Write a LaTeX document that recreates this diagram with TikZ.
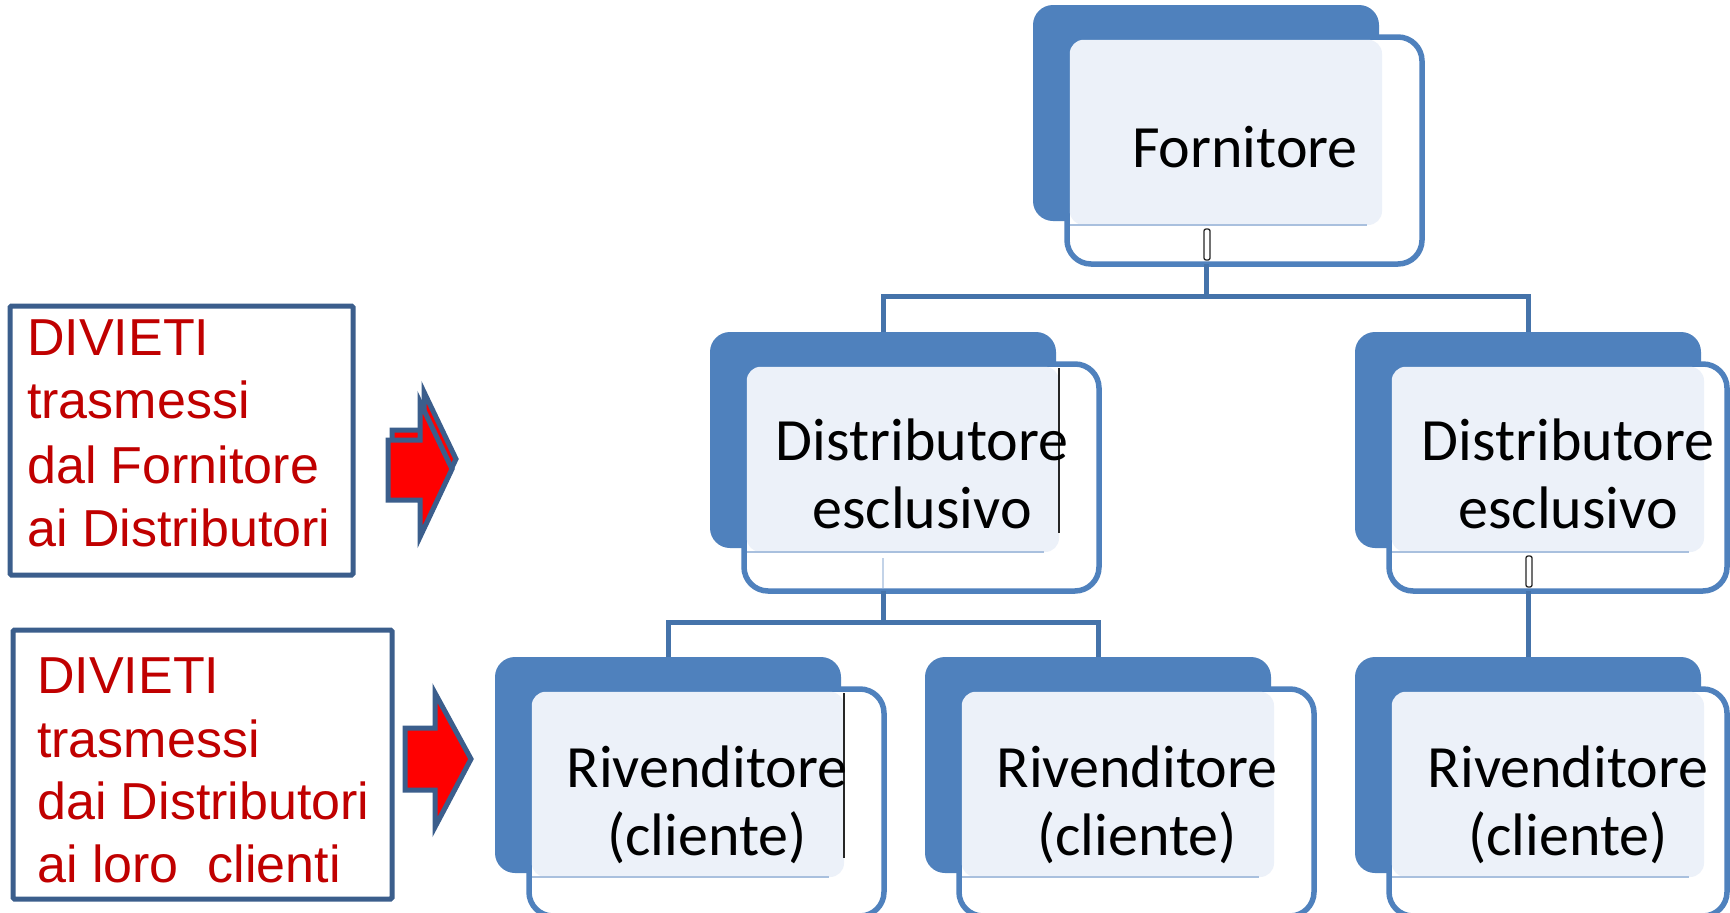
\documentclass[tikz,border=0pt]{standalone}
\usepackage{fontspec}
\setmainfont{Carlito}
\newfontfamily\arialf{Liberation Sans}
\definecolor{darkbox}{HTML}{4F81BD}
\definecolor{lightbox}{HTML}{ECF1F9}
\definecolor{lightedge}{HTML}{A9C0DE}
\definecolor{linec}{HTML}{4573AA}
\definecolor{framec}{HTML}{3B5E8C}
\definecolor{redtxt}{HTML}{C00000}
\definecolor{arrowred}{HTML}{FF0000}
\tikzset{
  darkrect/.style={fill=darkbox, rounded corners=20pt, inner sep=0pt, outer sep=0pt,
    minimum width=346pt, minimum height=216pt, anchor=north west},
  outrect/.style={draw=darkbox, fill=white, line width=5.5pt, rounded corners=24pt,
    inner sep=0pt, outer sep=0pt, minimum height=227pt, anchor=north west},
  boxtext/.style={font=\fontsize{60}{68}\selectfont, text=black, anchor=base, inner sep=0pt},
  sidetext/.style={font=\arialf\fontsize{52}{64}\selectfont, text=redtxt, anchor=base west, inner sep=0pt},
  framebox/.style={draw=framec, line width=5pt, inner sep=0pt, outer sep=0pt,
    anchor=north west, rounded corners=1.5pt},
  conn/.style={draw=linec, line width=5pt},
  redarrow/.style={fill=arrowred, draw=framec, line width=5pt, line join=miter, miter limit=10},
  blackmark/.style={draw=black!85, line width=1.5pt},
  capsule/.style={draw=black!85, fill=white, line width=1.3pt, rounded corners=2pt},
}
% #1 name, #2 x, #3 y (top left of dark shape), #4 outline width
\newcommand\OrgShape[4]{%
  \node[darkrect] (#1d) at (#2,#3) {};
  \node[outrect, minimum width=#4pt] (#1) at ({#2+34},{#3+32}) {};
  \fill[lightbox, rounded corners=14pt] ({#2+36.75},{#3+34.75}) rectangle ({#2+349},{#3+220});
  \draw[lightedge, line width=1.8pt] ({#2+37},{#3+220}) -- ({#2+334},{#3+220});
}
\begin{document}
\begin{tikzpicture}[x=1pt,y=-1pt]
\useasboundingbox (0,0) rectangle (1730,913);
\fill[white] (0,0) rectangle (1730,913);

% ---- boxes ----
\OrgShape{forn}{1033}{5}{355}
\OrgShape{dista}{710}{332}{355}
\OrgShape{distb}{1355}{332}{338}
\OrgShape{riva}{495}{657}{355}
\OrgShape{rivb}{925}{657}{355}
\OrgShape{rivc}{1355}{657}{338}

% ---- small artefacts ----
\draw[blackmark] (1059,368) -- (1059,533);
\draw[blackmark] (844,693) -- (844,858);
\draw[capsule] (1204,229) rectangle (1210,260);
\draw[capsule] (1526,556) rectangle (1532,587);
\draw[draw=lightedge!70, line width=2pt] (883,558) -- (883,588);

% ---- texts ----
\node[boxtext] (fornt) at (1245,167) {Fornitore};
\node[boxtext] (distat1) at (922,460) {Distributore};
\node[boxtext] (distat2) at (922,528) {esclusivo};
\node[boxtext] (distbt1) at (1568,460) {Distributore};
\node[boxtext] (distbt2) at (1568,528) {esclusivo};
\node[boxtext] (rivat1) at (707,787) {Rivenditore};
\node[boxtext] (rivat2) at (707,855) {(cliente)};
\node[boxtext] (rivbt1) at (1137,787) {Rivenditore};
\node[boxtext] (rivbt2) at (1137,855) {(cliente)};
\node[boxtext] (rivct1) at (1568,787) {Rivenditore};
\node[boxtext] (rivct2) at (1568,855) {(cliente)};

% ---- connectors ----
\coordinate (busa) at (0,296);
\coordinate (busb) at (0,622);
\draw[conn] (fornd.center |- forn.south) -- (fornd.center |- busa);
\draw[conn] (distad.north) |- (distbd.north |- busa) -- (distbd.north);
\draw[conn] (distad.center |- dista.south) -- (distad.center |- busb);
\draw[conn] (rivad.north) |- (rivbd.north |- busb) -- (rivbd.north);
\draw[conn] (distbd.center |- distb.south) -- (rivcd.north);

% ---- left frames ----
\node[framebox, minimum width=343pt, minimum height=269pt] (diva) at (10,306) {};
\node[sidetext] (divat1) at (27,355) {DIVIETI};
\node[sidetext] (divat2) at (27,418) {trasmessi};
\node[sidetext] (divat3) at (27,483) {dal Fornitore};
\node[sidetext] (divat4) at (27,546) {ai Distributori};

\node[framebox, minimum width=379pt, minimum height=269pt] (divb) at (13,630) {};
\node[sidetext] (divbt1) at (37,693) {DIVIETI};
\node[sidetext] (divbt2) at (37,757) {trasmessi};
\node[sidetext] (divbt3) at (37,819) {dai Distributori};
\node[sidetext] (divbt4) at (37,882) {ai loro\ \ clienti};

% ---- red arrows ----
\draw[redarrow] (392,430) -- (424,430) -- (424,392) -- (456,459) -- (424,527) -- (424,490) -- (392,490) -- cycle;
\draw[redarrow] (388,440) -- (420,440) -- (420,402) -- (452,469) -- (420,537) -- (420,500) -- (388,500) -- cycle;
\draw[redarrow] (405,728) -- (435,728) -- (435,693) -- (471,759) -- (435,827) -- (435,790) -- (405,790) -- cycle;
\end{tikzpicture}
\end{document}
